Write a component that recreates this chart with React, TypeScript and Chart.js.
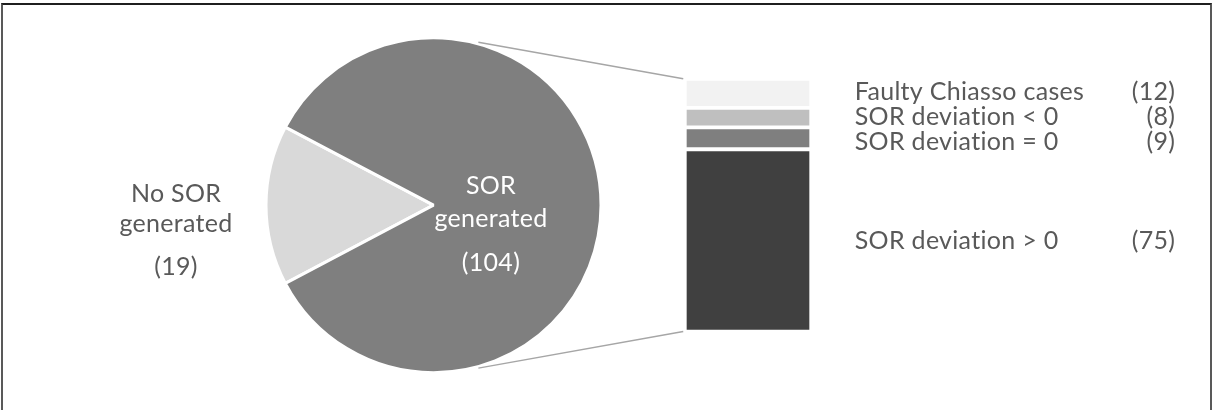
import React, { useEffect, useRef } from "react";
import { Chart, registerables } from "chart.js";

Chart.register(...registerables);

// ---- Data ----------------------------------------------------------------
const pieNames = ["No SOR generated", "SOR generated"];
const pieNameLines = [["No SOR", "generated"], ["SOR", "generated"]];
const pieValues = [19, 104];
const pieColors = ["#d9d9d9", "#7f7f7f"];

// Breakdown of "SOR generated", stacked bottom to top
const barNames = ["SOR deviation > 0", "SOR deviation = 0", "SOR deviation < 0", "Faulty Chiasso cases"];
const barValues = [75, 9, 8, 12];
const barColors = ["#404040", "#7f7f7f", "#bfbfbf", "#f2f2f2"];

// ---- Layout / style --------------------------------------------------------
const W = 1212;
const H = 410;
const FONT_FAMILY = 'Lato, "Open Sans", "DejaVu Sans", sans-serif';
const FONT_SIZE = 25;
const LETTER_SPACING = "0.3px"; // also keeps Lato's "ti" ligature off
const CAP_HALF = FONT_SIZE * 0.358;
const TEXT_GREY = "#595959";
const LINE_GREY = "#a6a6a6";

const pieTotal = pieValues.reduce((a, b) => a + b, 0);
const barTotal = barValues.reduce((a, b) => a + b, 0);

function setFont(ctx: CanvasRenderingContext2D) {
  ctx.font = `${FONT_SIZE}px ${FONT_FAMILY}`;
  (ctx as any).letterSpacing = LETTER_SPACING;
}

// Pie labels: inside label for the split slice, outside label for the other
const pieLabelPlugin = {
  id: "pieLabels",
  afterDatasetsDraw(chart: any) {
    const ctx: CanvasRenderingContext2D = chart.ctx;
    const meta = chart.getDatasetMeta(0);
    meta.data.forEach((arc: any, i: number) => {
      const { x, y, startAngle, endAngle, outerRadius } = arc.getProps(
        ["x", "y", "startAngle", "endAngle", "outerRadius"],
        true
      );
      const mid = (startAngle + endAngle) / 2;
      const inside = i === 1;
      const k = inside ? 0.343 : 1.537;
      const ax = x + Math.cos(mid) * outerRadius * k;
      const ay = y + Math.sin(mid) * outerRadius * k;
      const offsets = inside ? [-20, 13, 57] : [-12.5, 18, 61];
      const lines = [...pieNameLines[i], `(${pieValues[i]})`];
      ctx.save();
      setFont(ctx);
      ctx.fillStyle = inside ? "#ffffff" : TEXT_GREY;
      ctx.textAlign = "center";
      ctx.textBaseline = "alphabetic";
      lines.forEach((t, j) => ctx.fillText(t, ax, ay + offsets[j] + CAP_HALF));
      ctx.restore();
    });
  },
};

// Bar segment labels: name on the left, count right-aligned, spread apart when crowded
const MIN_ROW_GAP = 25;
const barLabelPlugin = {
  id: "barLabels",
  afterDatasetsDraw(chart: any) {
    const ctx: CanvasRenderingContext2D = chart.ctx;
    const rows = barValues.map((_, i) => {
      const el = chart.getDatasetMeta(i).data[0];
      const { x, y, base, width } = el.getProps(["x", "y", "base", "width"], true);
      return { center: (y + base) / 2, right: x + width / 2 };
    });
    const ys = rows.map((r) => r.center);
    for (let it = 0; it < 60; it++) {
      for (let a = 0; a < ys.length - 1; a++) {
        const gap = ys[a] - ys[a + 1];
        if (gap < MIN_ROW_GAP) {
          const d = (MIN_ROW_GAP - gap) / 2;
          ys[a] += d;
          ys[a + 1] -= d;
        }
      }
    }
    ctx.save();
    setFont(ctx);
    ctx.fillStyle = TEXT_GREY;
    ctx.textBaseline = "alphabetic";
    rows.forEach((r, i) => {
      const yy = ys[i] + CAP_HALF;
      ctx.textAlign = "left";
      ctx.fillText(barNames[i], r.right + 43.5, yy);
      ctx.textAlign = "right";
      ctx.fillText(`(${barValues[i]})`, r.right + 364, yy);
    });
    ctx.restore();
  },
};

// Connector lines from the pie's split slice to the top and bottom of the bar
function makeConnectorPlugin(pie: Chart) {
  return {
    id: "connectors",
    afterDatasetsDraw(chart: any) {
      const arc: any = pie.getDatasetMeta(0).data[1];
      if (!arc) return;
      const { x, y, outerRadius } = arc.getProps(["x", "y", "outerRadius"], true);
      const topEl = chart.getDatasetMeta(barValues.length - 1).data[0];
      const botEl = chart.getDatasetMeta(0).data[0];
      const t = topEl.getProps(["x", "y", "width"], true);
      const b = botEl.getProps(["x", "base", "width"], true);
      const ang = (74.6 * Math.PI) / 180;
      const r = outerRadius + 1.5;
      const ctx: CanvasRenderingContext2D = chart.ctx;
      ctx.save();
      ctx.strokeStyle = LINE_GREY;
      ctx.lineWidth = 1.5;
      ctx.beginPath();
      ctx.moveTo(x + Math.cos(-ang) * r, y + Math.sin(-ang) * r);
      ctx.lineTo(t.x - t.width / 2 - 1.5, t.y);
      ctx.moveTo(x + Math.cos(ang) * r, y + Math.sin(ang) * r);
      ctx.lineTo(b.x - b.width / 2 - 1.5, b.base);
      ctx.stroke();
      ctx.restore();
    },
  };
}

export default function App() {
  const pieRef = useRef<HTMLCanvasElement>(null);
  const barRef = useRef<HTMLCanvasElement>(null);

  useEffect(() => {
    if (!pieRef.current || !barRef.current) return;

    const pie = new Chart(pieRef.current, {
      type: "pie",
      data: {
        labels: pieNames,
        datasets: [
          {
            data: pieValues,
            backgroundColor: pieColors,
            borderColor: "#ffffff",
            borderWidth: 3,
          },
        ],
      },
      options: {
        responsive: false,
        animation: false,
        // centre the small slice on the left side
        rotation: 270 - (pieValues[0] / pieTotal) * 180,
        layout: { padding: { left: 264.5, right: 609.5, top: 36.2, bottom: 35.8 } },
        plugins: { legend: { display: false }, tooltip: { enabled: false } },
        events: [],
      },
      plugins: [pieLabelPlugin],
    } as any);

    const bar = new Chart(barRef.current, {
      type: "bar",
      data: {
        labels: [""],
        datasets: barValues.map((v, i) => ({
          label: barNames[i],
          data: [v],
          backgroundColor: barColors[i],
          borderColor: "#ffffff",
          borderWidth: 2.25,
          borderSkipped: false,
          barPercentage: 1,
          categoryPercentage: 1,
        })),
      },
      options: {
        responsive: false,
        animation: false,
        layout: { padding: { left: 684.75, right: 400.75, top: 78.75, bottom: 78.45 } },
        scales: {
          x: { display: false, stacked: true },
          y: { display: false, stacked: true, min: 0, max: barTotal },
        },
        plugins: { legend: { display: false }, tooltip: { enabled: false } },
        events: [],
      },
      plugins: [barLabelPlugin, makeConnectorPlugin(pie)],
    } as any);

    return () => {
      bar.destroy();
      pie.destroy();
    };
  }, []);

  return (
    <div
      style={{
        position: "fixed",
        left: 0,
        top: 0,
        width: W,
        height: H,
        overflow: "hidden",
        background: "#ffffff",
      }}
    >
      <div
        style={{
          position: "absolute",
          left: 1,
          top: 3,
          width: 1211,
          height: 430,
          boxSizing: "border-box",
          borderTop: "2px solid #1f1f1f",
          borderLeft: "2px solid #595959",
          borderRight: "2px solid #595959",
        }}
      />
      <canvas ref={pieRef} width={W} height={H} style={{ position: "absolute", left: 0, top: 0 }} />
      <canvas ref={barRef} width={W} height={H} style={{ position: "absolute", left: 0, top: 0 }} />
    </div>
  );
}
